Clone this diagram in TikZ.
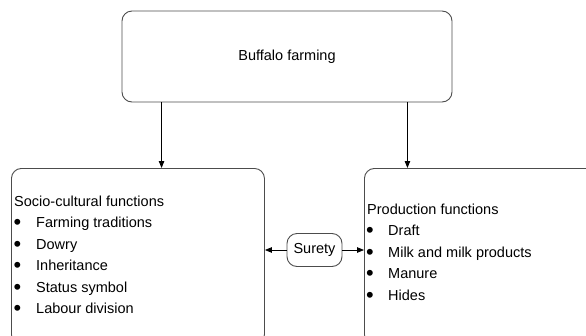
\documentclass[tikz,border=0pt]{standalone}
\usepackage{fontspec}
\setmainfont{Liberation Sans}
\usetikzlibrary{arrows.meta}

\newcommand{\listbullet}{\raisebox{-2.4pt}{\scalebox{1.5}{\textbullet}}}

\tikzset{
  panel/.style={draw=black!70, line width=0.9pt, rounded corners=10pt, inner sep=0pt,
    font=\fontsize{14.5}{17}\selectfont},
  label/.style={font=\fontsize{14.5}{17}\selectfont, inner sep=0pt, anchor=base west},
  link/.style={-{Triangle[length=7pt,width=5.5pt]}, line width=0.8pt},
}

\begin{document}
\begin{tikzpicture}[x=1pt,y=-1pt]
  \clip (0,0) rectangle (586,335);
  % boxes
  \node[panel, minimum width=330pt, minimum height=91pt] (farm) at (287,56.5) {Buffalo farming};
  \node[panel, anchor=north west, minimum width=253pt, minimum height=176pt] (socio) at (11,168) {};
  \node[panel, anchor=north west, minimum width=250pt, minimum height=176pt] (prod) at (364,168) {};
  \node[panel, minimum width=55pt, minimum height=33pt] (surety) at (314.5,250) {Surety};
  % socio-cultural list
  \node[label] (sociohead) at (14,206) {Socio-cultural functions};
  \foreach \txt [count=\i] in {Farming traditions, Dowry, Inheritance, Status symbol, Labour division}
    \node[label] (socio\i) at (13.5,{206+21.5*\i}) {\makebox[22.5pt][l]{\listbullet}\txt};
  % production list
  \node[label] (prodhead) at (367,214) {Production functions};
  \foreach \txt [count=\i] in {Draft, Milk and milk products, Manure, Hides}
    \node[label] (prod\i) at (366,{214+21.5*\i}) {\makebox[22pt][l]{\listbullet}\txt};
  % arrows
  \draw[link] ([xshift=40pt]farm.south west) -- ([xshift=40pt]farm.south west |- socio.north);
  \draw[link] ([xshift=-45pt]farm.south east) -- ([xshift=-45pt]farm.south east |- prod.north);
  \draw[link] (surety.west) -- (surety.west -| socio.east);
  \draw[link] (surety.east) -- (surety.east -| prod.west);
\end{tikzpicture}
\end{document}
